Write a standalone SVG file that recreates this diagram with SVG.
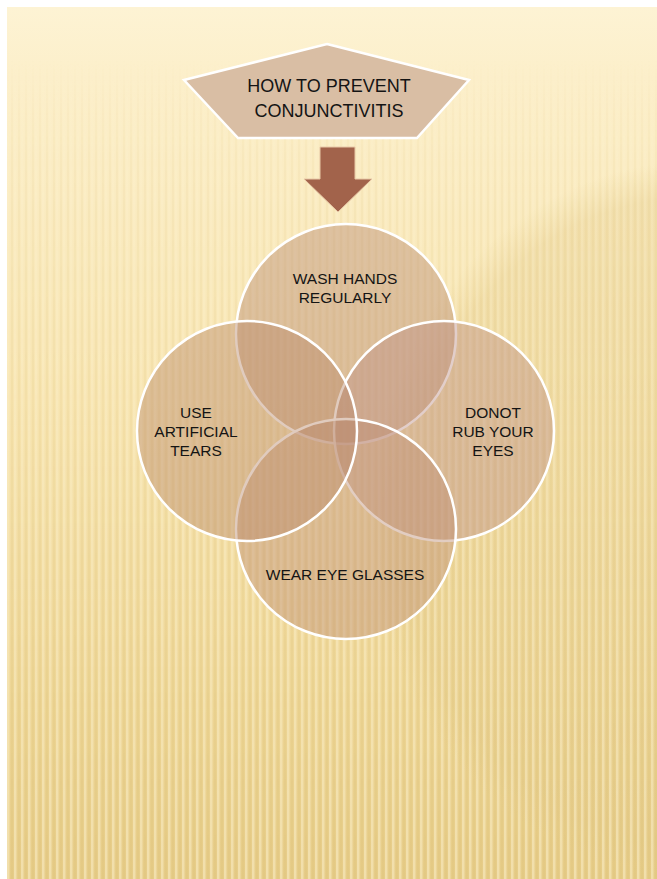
<svg xmlns="http://www.w3.org/2000/svg" width="657" height="879" viewBox="0 0 657 879">
  <defs>
    <linearGradient id="bg" x1="0" y1="0" x2="0" y2="1">
      <stop offset="0" stop-color="#FDF3D4"/>
      <stop offset="0.08" stop-color="#FCEFCA"/>
      <stop offset="0.45" stop-color="#F7E4B0"/>
      <stop offset="0.8" stop-color="#EDD595"/>
      <stop offset="1" stop-color="#E6CC88"/>
    </linearGradient>
    <linearGradient id="fadeG" x1="0" y1="0" x2="0" y2="1">
      <stop offset="0" stop-color="#000"/>
      <stop offset="0.06" stop-color="#000"/>
      <stop offset="0.25" stop-color="#fff" stop-opacity="0.5"/>
      <stop offset="1" stop-color="#fff"/>
    </linearGradient>
    <mask id="fade">
      <rect x="7" y="7" width="650" height="872" fill="url(#fadeG)"/>
    </mask>
    <pattern id="stripes" x="7" y="0" width="7" height="10" patternUnits="userSpaceOnUse">
      <rect x="0" y="0" width="2.5" height="10" fill="#FFF6D8" opacity="0.45"/>
      <rect x="4" y="0" width="2" height="10" fill="#D9BC70" opacity="0.18"/>
    </pattern>
    <radialGradient id="swoosh" cx="0.5" cy="0.5" r="0.5">
      <stop offset="0.9" stop-color="#E2C988" stop-opacity="0.35"/>
      <stop offset="1" stop-color="#E2C988" stop-opacity="0"/>
    </radialGradient>
    <style>
      .lbl { font-family: "Liberation Sans", Arial, sans-serif; font-size: 15.5px; fill: #141414; text-anchor: middle; }
      .ttl { font-family: "Liberation Sans", Arial, sans-serif; font-size: 18px; fill: #141414; text-anchor: middle; }
      .circ { stroke: #FFFFFF; stroke-width: 2.5; fill-opacity: 0.44; }
    </style>
  </defs>

  <rect x="0" y="0" width="657" height="879" fill="#FFFFFF"/>
  <rect x="7" y="7" width="650" height="872" fill="url(#bg)"/>
  <ellipse cx="700" cy="520" rx="330" ry="360" fill="url(#swoosh)"/>
  <rect x="7" y="7" width="650" height="872" fill="url(#stripes)" mask="url(#fade)"/>

  <g id="title">
    <polygon points="327,44 469,80 417,138 238,138 184,80" fill="#D9BEA4" stroke="#FFFFFF" stroke-width="2.5" stroke-linejoin="miter"/>
    <text class="ttl" x="329" y="92">HOW TO PREVENT</text>
    <text class="ttl" x="329" y="117">CONJUNCTIVITIS</text>
  </g>

  <g id="connectors">
    <polygon points="320,147 355,147 355,179 372,179 338,212 304,179 320,179" fill="#A2634B" stroke="#E8C9A8" stroke-width="1"/>
  </g>

  <g id="wash-hands">
    <circle class="circ" cx="346" cy="334" r="110" fill="#B88C74"/>
    <text class="lbl" x="345" y="284">WASH HANDS</text>
    <text class="lbl" x="345" y="303">REGULARLY</text>
  </g>
  <g id="donot-rub">
    <circle class="circ" cx="444" cy="431" r="110" fill="#BC9086"/>
  </g>
  <g id="wear-glasses">
    <circle class="circ" cx="346" cy="529" r="110" fill="#BC8E74"/>
  </g>
  <g id="artificial-tears">
    <circle class="circ" cx="247" cy="431" r="110" fill="#B8886A"/>
  </g>
  <g id="labels">
    <text class="lbl" x="493" y="418">DONOT</text>
    <text class="lbl" x="493" y="437">RUB YOUR</text>
    <text class="lbl" x="493" y="456">EYES</text>
    <text class="lbl" x="345" y="580">WEAR EYE GLASSES</text>
    <text class="lbl" x="196" y="418">USE</text>
    <text class="lbl" x="196" y="437">ARTIFICIAL</text>
    <text class="lbl" x="196" y="456">TEARS</text>
  </g>
</svg>
